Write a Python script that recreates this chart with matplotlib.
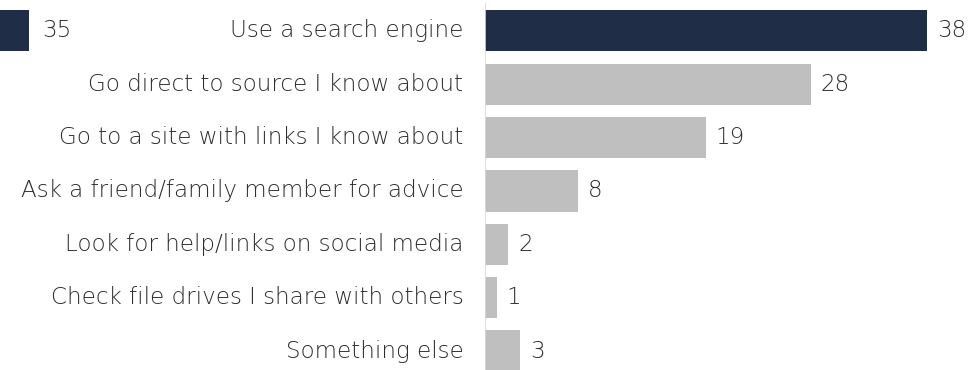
import matplotlib
matplotlib.use('Agg')

import numpy as np
import matplotlib.pyplot as plt

plt.rcParams['font.family'] = ['DejaVu Sans']

categories = [
    "Use a search engine",
    "Go direct to source I know about",
    "Go to a site with links I know about",
    "Ask a friend/family member for advice",
    "Look for help/links on social media ",
    "Check file drives I share with others",
    "Something else",
]
values = [38, 28, 19, 8, 2, 1, 3]
left_values = [35]

NAVY = '#1f2d47'
GREY = '#bfbfbf'
TEXT = '#2e2e2e'
FS = 16.6
WEIGHT = 'light'

W, H = 972, 370
fig = plt.figure(figsize=(W / 100, H / 100), dpi=100)

# main chart: bars start at the axis line
px_per_unit = 11.63
x0 = 485
n = len(categories)
ylims = (n - 1 + 0.356, -0.58)

ax = fig.add_axes([x0 / W, 0, (W - x0) / W, 1])
y = np.arange(n)
colors = [NAVY] + [GREY] * (n - 1)
ax.barh(y, values, height=0.77, color=colors)
ax.set_xlim(0, (W - x0) / px_per_unit)
ax.set_ylim(*ylims)
ax.set_axis_off()
ax.axvline(0, color='#d9d9d9', lw=1.2, ymin=0, ymax=0.99)

for i, (cat, v) in enumerate(zip(categories, values)):
    ax.text(v + 0.85, i, str(v), va='center', ha='left', fontsize=FS, color=TEXT,
            fontweight=WEIGHT)
    ax.text(-1.85, i, cat.rstrip(), va='center', ha='right', fontsize=FS, color=TEXT,
            clip_on=False, fontweight=WEIGHT)

# neighbouring panel, only its right edge shows
end_px = 29
span = left_values[0] * px_per_unit + 200
ax2 = fig.add_axes([(end_px - left_values[0] * px_per_unit) / W, 0, span / W, 1])
ax2.barh([0], left_values, height=0.77, color=NAVY)
ax2.set_xlim(0, span / px_per_unit)
ax2.set_ylim(*ylims)
ax2.set_axis_off()
ax2.text(left_values[0] + 1.1, 0, str(left_values[0]), va='center', ha='left',
         fontsize=FS, color=TEXT, fontweight=WEIGHT)

fig.savefig('out.png', dpi=100)
